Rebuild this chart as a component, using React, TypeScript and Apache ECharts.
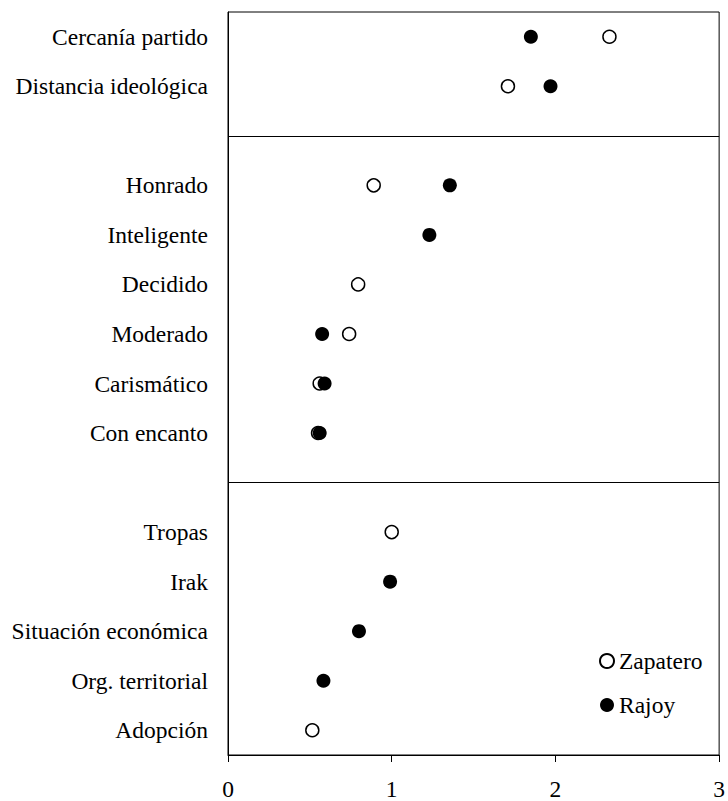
import React, { useEffect, useRef } from "react";
import * as echarts from "echarts";

const categories = [
  "Cercanía partido",
  "Distancia ideológica",
  " ",
  "Honrado",
  "Inteligente",
  "Decidido",
  "Moderado",
  "Carismático",
  "Con encanto",
  "  ",
  "Tropas",
  "Irak",
  "Situación económica",
  "Org. territorial",
  "Adopción",
];

const zapatero: (number | null)[] = [
  2.33, 1.71, null, 0.89, null, 0.795, 0.74, 0.56, 0.55, null, 1.0, null, null, null, 0.515,
];
const rajoy: (number | null)[] = [
  1.85, 1.97, null, 1.355, 1.23, null, 0.575, 0.59, 0.56, null, null, 0.99, 0.8, 0.583, null,
];

const separators = [2, 9];
const xTicks = { min: 0, max: 3, interval: 1 };

const FONT = "Liberation Serif";
const FS = 23.5;

function toData(vals: (number | null)[]) {
  const out: [number, number][] = [];
  vals.forEach((v, i) => {
    if (v !== null) out.push([v, i]);
  });
  return out;
}

export default function App() {
  const ref = useRef<HTMLDivElement>(null);
  useEffect(() => {
    if (!ref.current) return;
    const chart = echarts.init(ref.current, null, { renderer: "svg" });
    chart.setOption({
      animation: false,
      backgroundColor: "#fff",
      grid: {
        left: 228,
        right: 6,
        top: 12,
        bottom: 46,
        show: true,
        borderColor: "#000",
        borderWidth: 1,
        backgroundColor: "transparent",
      },
      legend: {
        orient: "vertical",
        left: 594,
        top: 644,
        itemWidth: 14,
        itemHeight: 14,
        itemGap: 20,
        textStyle: { fontFamily: FONT, fontSize: FS, color: "#000" },
        data: ["Zapatero", "Rajoy"],
      },
      xAxis: {
        type: "value",
        min: xTicks.min,
        max: xTicks.max,
        interval: xTicks.interval,
        splitLine: { show: false },
        axisLine: { show: true, lineStyle: { color: "#000", width: 1 } },
        axisTick: { show: true, length: 7, lineStyle: { color: "#000" } },
        axisLabel: { fontFamily: FONT, fontSize: FS, color: "#000", margin: 22 },
      },
      yAxis: {
        type: "category",
        inverse: true,
        data: categories,
        axisLine: { show: true, lineStyle: { color: "#000", width: 1 } },
        axisTick: { show: false },
        splitLine: { show: false },
        axisLabel: { fontFamily: FONT, fontSize: FS, color: "#000", margin: 20, interval: 0 },
      },
      series: [
        {
          name: "Zapatero",
          type: "scatter",
          symbol: "circle",
          symbolSize: 13,
          itemStyle: { color: "#fff", borderColor: "#000", borderWidth: 1.5, opacity: 1 },
          data: toData(zapatero),
          markLine: {
            silent: true,
            symbol: "none",
            label: { show: false },
            lineStyle: { color: "#000", width: 1, type: "solid" },
            data: separators.map((s) => ({ yAxis: s })),
          },
          z: 2,
        },
        {
          name: "Rajoy",
          type: "scatter",
          symbol: "circle",
          symbolSize: 14,
          itemStyle: { color: "#000", borderColor: "#000", borderWidth: 0, opacity: 1 },
          data: toData(rajoy),
          z: 3,
        },
      ],
    });
    return () => chart.dispose();
  }, []);
  return (
    <div
      ref={ref}
      style={{ position: "absolute", left: 0, top: 0, width: 728, height: 801 }}
    />
  );
}
